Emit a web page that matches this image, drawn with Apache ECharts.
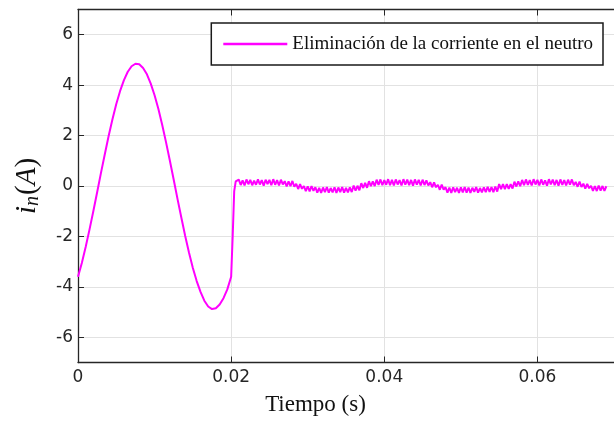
<!DOCTYPE html>
<html><head><meta charset="utf-8">
<script src="https://cdn.jsdelivr.net/npm/echarts@6/dist/echarts.min.js"></script>
<style>html,body{margin:0;padding:0;background:#fff}#c{width:614px;height:425px}</style>
</head><body><div id="c"></div>
<script>
// ---- data ----
const seriesName = 'Eliminación de la corriente en el neutro';
const xTicks = [0, 0.02, 0.04, 0.06];
const yTicks = [-6, -4, -2, 0, 2, 4, 6];

// 0 s .. 0.02 s, one sample every 0.5 ms
const sineStart = 0, sineStep = 0.0005;
const sineValues = [-3.60,-3.05,-2.42,-1.73,-1.00,-0.25,0.52,1.26,1.98,2.65,
  3.25,3.77,4.20,4.53,4.75,4.85,4.83,4.68,4.43,4.06,
  3.60,3.05,2.42,1.73,1.00,0.25,-0.52,-1.26,-1.98,-2.65,
  -3.25,-3.77,-4.20,-4.55,-4.78,-4.88,-4.85,-4.70,-4.45,-4.10,-3.60];

// compensation switching instant
const jumpTimes  = [0.0202, 0.0204, 0.0206];
const jumpValues = [-2.0, -0.2, 0.18];

// 21 ms .. 69 ms, one sample every 0.25 ms (noisy residual current)
const rippleStart = 0.0210, rippleStep = 0.00025;
const rippleValues = [
  0.25,0.04,0.22,0.02,0.26,0.07,0.24,0.03,0.21,0.05,
  0.26,0.06,0.23,0.01,0.25,0.08,0.24,0.03,0.27,0.05,
  0.23,0.02,0.25,0.06,0.19,-0.02,0.18,-0.01,0.20,-0.03,
  0.09,-0.12,0.07,-0.11,0.00,-0.20,-0.01,-0.21,0.00,-0.19,
  -0.05,-0.26,-0.07,-0.27,-0.06,-0.24,-0.04,-0.26,-0.08,-0.25,
  -0.05,-0.27,-0.06,-0.24,-0.04,-0.26,-0.07,-0.25,-0.05,-0.24,
  0.02,-0.18,0.01,-0.17,0.11,-0.08,0.12,-0.07,0.19,-0.01,
  0.18,0.00,0.25,0.04,0.26,0.03,0.23,0.05,0.27,0.03,
  0.24,0.02,0.26,0.06,0.23,0.02,0.27,0.05,0.25,0.03,
  0.24,0.01,0.26,0.05,0.24,0.02,0.25,0.04,0.22,0.02,
  0.15,-0.05,0.14,-0.05,0.05,-0.15,0.06,-0.14,-0.05,-0.26,
  -0.06,-0.27,-0.05,-0.24,-0.07,-0.27,-0.05,-0.25,-0.04,-0.26,
  -0.06,-0.27,-0.07,-0.23,-0.04,-0.26,-0.08,-0.25,-0.05,-0.24,
  -0.03,-0.23,-0.04,-0.24,-0.02,-0.22,0.08,-0.12,0.08,-0.12,
  0.07,-0.11,0.07,-0.10,0.17,-0.02,0.18,-0.01,0.24,0.03,
  0.26,0.04,0.23,0.02,0.27,0.06,0.24,0.02,0.26,0.05,
  0.22,0.01,0.27,0.06,0.25,0.03,0.24,0.01,0.26,0.04,
  0.23,0.02,0.25,0.05,0.26,0.03,0.16,-0.03,0.17,-0.04,
  0.09,-0.10,0.08,-0.09,0.01,-0.19,0.00,-0.20,0.02,-0.18,
  0.00,-0.19,-0.01];

// ---- build the series points ----
const points = [];
sineValues.forEach((v, i) => points.push([sineStart + i * sineStep, v]));
jumpValues.forEach((v, i) => points.push([jumpTimes[i], v]));
rippleValues.forEach((v, i) => points.push([rippleStart + i * rippleStep, v]));

const axisColor = '#262626';
const gridColor = '#e2e2e2';
const tickFont = 'DejaVu Sans';
const serif = 'Liberation Serif';

const chart = echarts.init(document.getElementById('c'), null, {renderer: 'canvas'});
chart.setOption({
  animation: false,
  backgroundColor: '#ffffff',
  grid: {left: 78, top: 9.5, width: 545.2, height: 353},
  legend: {
    right: 11, top: 23,
    icon: 'rect', itemWidth: 64, itemHeight: 2.5,
    padding: [11, 10, 11, 12],
    borderColor: '#1a1a1a', borderWidth: 1.5, borderRadius: 0,
    backgroundColor: '#ffffff',
    textStyle: {fontFamily: serif, fontSize: 19, color: '#111', lineHeight: 20},
    data: [seriesName]
  },
  xAxis: [{
    type: 'value', min: 0, max: 0.07, position: 'bottom',
    axisLine: {show: true, onZero: false, lineStyle: {color: axisColor, width: 1.3}},
    axisTick: {show: true, inside: true, length: 6, customValues: xTicks, lineStyle: {color: axisColor}},
    axisLabel: {customValues: xTicks, margin: 7, color: axisColor, fontFamily: tickFont, fontSize: 17,
      formatter: v => v === 0 ? '0' : v.toFixed(2)},
    splitLine: {show: true, lineStyle: {color: gridColor, width: 1}},
    name: 'Tiempo (s)', nameLocation: 'middle', nameGap: 31,
    nameTextStyle: {fontFamily: serif, fontSize: 23, color: '#111', padding: [0, 61, 0, 0]}
  }, {
    type: 'value', min: 0, max: 0.07, position: 'top',
    axisLine: {show: true, onZero: false, lineStyle: {color: axisColor, width: 1.3}},
    axisTick: {show: true, inside: true, length: 6, customValues: xTicks, lineStyle: {color: axisColor}},
    axisLabel: {show: false},
    splitLine: {show: false}
  }],
  yAxis: [{
    type: 'value', min: -7, max: 7, position: 'left',
    axisLine: {show: true, onZero: false, lineStyle: {color: axisColor, width: 1.3}},
    axisTick: {show: true, inside: true, length: 6, customValues: yTicks, lineStyle: {color: axisColor}},
    axisLabel: {customValues: yTicks, margin: 5, color: axisColor, fontFamily: tickFont, fontSize: 17,
      formatter: v => v < 0 ? '-' + Math.abs(v) : String(v)},
    splitLine: {show: true, lineStyle: {color: gridColor, width: 1}},
    name: '{a|i}{b|n}{c|(}{a|A}{c|)}', nameLocation: 'middle', nameGap: 35, nameRotate: 90,
    nameTextStyle: {
      color: '#111',
      rich: {
        a: {fontFamily: serif, fontStyle: 'italic', fontSize: 29, lineHeight: 32, color: '#111'},
        b: {fontFamily: serif, fontStyle: 'italic', fontSize: 20, lineHeight: 32, verticalAlign: 'bottom', padding: [0, 1, 0, 0], color: '#111'},
        c: {fontFamily: serif, fontSize: 29, lineHeight: 32, color: '#111'}
      }
    }
  }],
  series: [{
    name: seriesName, type: 'line', xAxisIndex: 0, yAxisIndex: 0,
    data: points, showSymbol: false, symbol: 'none', clip: true,
    lineStyle: {color: '#ff00ff', width: 2},
    itemStyle: {color: '#ff00ff'}
  }]
});
</script>
</body></html>
